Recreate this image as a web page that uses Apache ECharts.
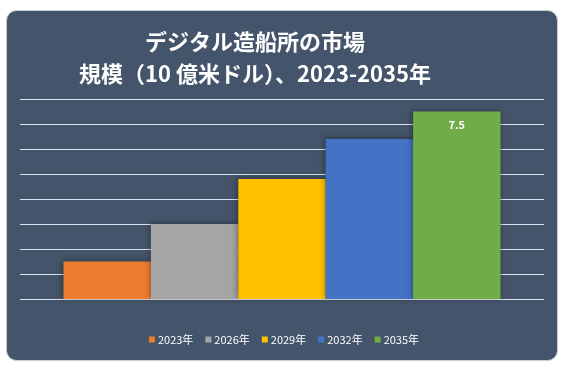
<!DOCTYPE html>
<html>
<head>
<meta charset="utf-8">
<script src="https://cdn.jsdelivr.net/npm/echarts@6/dist/echarts.min.js"></script>
<style>
html,body{margin:0;padding:0;background:#ffffff;}
#c{width:568px;height:370px;}
</style>
</head>
<body>
<div id="c"></div>
<script>
const titleLines = ['デジタル造船所の市場', '規模（10 億米ドル）、2023-2035年'];
const categories = [''];
const seriesNames = ['2023年', '2026年', '2029年', '2032年', '2035年'];
const seriesValues = [1.5, 3.0, 4.8, 6.4, 7.5];
const seriesColors = ['#ED7D31', '#A5A5A5', '#FFC000', '#4472C4', '#70AD47'];
const labelledIndex = 4;

const chart = echarts.init(document.getElementById('c'), null, {renderer: 'canvas'});
const fontFam = '"Noto Sans CJK JP", "Noto Sans", sans-serif';

const series = seriesNames.map((name, i) => ({
  name: name,
  type: 'bar',
  data: [seriesValues[i]],
  barGap: '0%',
  barCategoryGap: '16.6%',
  itemStyle: {
    color: seriesColors[i],
    shadowColor: 'rgba(0,0,0,0.35)',
    shadowBlur: 6,
    shadowOffsetX: -1,
    shadowOffsetY: -1
  },
  label: {
    show: i === labelledIndex,
    position: 'insideTop',
    distance: 8,
    color: '#ffffff',
    fontWeight: 'bold',
    fontSize: 11,
    fontFamily: fontFam
  }
}));

chart.setOption({
  animation: false,
  graphic: [{
    type: 'rect',
    z: -10,
    shape: {x: 6.5, y: 10.5, width: 551, height: 350, r: 10},
    style: {fill: '#44546A', stroke: '#C8CDD4', lineWidth: 1}
  }],
  title: {
    text: titleLines.join('\n'),
    left: 250,
    top: 21,
    textAlign: 'center',
    textStyle: {
      color: '#ffffff',
      fontWeight: 'bold',
      fontSize: 22,
      lineHeight: 32,
      fontFamily: fontFam
    }
  },
  legend: {
    data: seriesNames,
    bottom: 20,
    left: 'center',
    itemWidth: 6,
    itemHeight: 6,
    itemGap: 12,
    icon: 'rect',
    textStyle: {color: '#ffffff', fontSize: 11, fontFamily: fontFam, padding: [0, 0, 0, -2]}
  },
  grid: {left: 20, right: 24, top: 99, bottom: 71},
  xAxis: {
    type: 'category',
    data: categories,
    axisLine: {show: false},
    axisTick: {show: false},
    axisLabel: {show: false}
  },
  yAxis: {
    type: 'value',
    min: 0,
    max: 8,
    interval: 1,
    axisLabel: {show: false},
    axisLine: {show: false},
    axisTick: {show: false},
    splitLine: {lineStyle: {color: '#DCE3EE', width: 1}}
  },
  series: series
});
</script>
</body>
</html>
